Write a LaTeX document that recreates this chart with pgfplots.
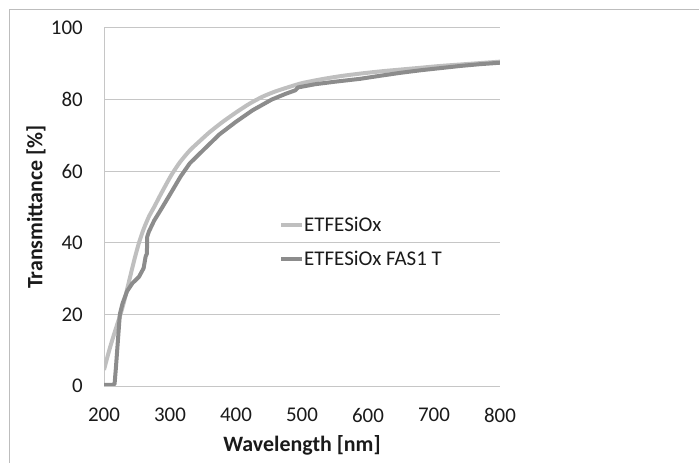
\documentclass[border=0pt]{standalone}
\usepackage{fontspec}
\setmainfont{Carlito}
\usepackage{pgfplots}
\pgfplotsset{compat=1.18}
\definecolor{lightS}{HTML}{BFBFBF}
\definecolor{darkS}{HTML}{8C8C8C}
\definecolor{gridG}{HTML}{C6C6C6}
\definecolor{frameG}{HTML}{BDBDBD}
\definecolor{txt}{HTML}{1A1A1A}
\begin{document}
\begin{tikzpicture}
\path[use as bounding box] (0bp,0bp) rectangle (699bp,463bp);
\draw[frameG, line width=1bp] (9bp,0bp) -- (9bp,453bp) -- (699bp,453bp);
\begin{axis}[
  at={(104bp,77bp)}, anchor=south west,
  scale only axis, width=396bp, height=358bp,
  xmin=200, xmax=800, ymin=0, ymax=100,
  xtick={200,300,...,800}, ytick={0,20,...,100},
  ymajorgrids, grid style={gridG, line width=1bp},
  axis x line*=bottom, axis y line*=left,
  axis line style={-, gridG, line width=1bp},
  major tick length=0pt, tick style={draw=none},
  /pgf/number format/assume math mode=true,
  /pgf/number format/1000 sep={},
  xticklabel style={font=\fontsize{21}{25}\selectfont, text=txt, anchor=north, inner sep=0pt, yshift=-22bp},
  yticklabel style={font=\fontsize{21}{25}\selectfont, text=txt, anchor=east, inner sep=0pt, xshift=-21bp},
  xlabel={Wavelength [nm]},
  ylabel={Transmittance [\%]},
  xlabel style={font=\bfseries\fontsize{22}{26}\selectfont, text=txt, at={(rel axis cs:0.5,0)}, anchor=center, yshift=-59bp},
  ylabel style={font=\bfseries\fontsize{22}{26}\selectfont, text=txt, at={(rel axis cs:0,0.5)}, anchor=center, yshift=68bp},
  legend style={at={(rel axis cs:0.442,0.473)}, anchor=north west, draw=none, fill=none,
    font=\fontsize{21}{25}\selectfont, text=txt, inner sep=0pt, row sep=18bp,
    nodes={inner sep=0pt}},
  legend cell align=left,
  legend image code/.code={\draw[#1] (0bp,0bp) -- (21bp,0bp);},
]
\addplot[lightS, line width=4bp, line join=round, smooth, tension=0.4] coordinates {
(200,4.5)(205,8.0)(210,11.3)(215,14.3)(220,17.2)(225,20.0)(230,23.3)(235,27.0)
(240,30.8)(246,35.3)(253,40.0)(260,43.8)(268,47.3)(276,50.0)(285,53.2)(295,56.6)
(303,59.2)(315,62.5)(330,65.8)(345,68.4)(360,70.9)(380,73.8)(400,76.4)(420,78.8)
(440,80.8)(460,82.3)(480,83.5)(500,84.6)(530,85.7)(560,86.6)(590,87.3)(620,87.9)
(650,88.4)(680,88.9)(710,89.4)(740,89.8)(770,90.2)(800,90.6)};
\addlegendentry{ETFESiOx}
\addplot[darkS, line width=4bp, line join=round] coordinates {
(200,0.3)(212,0.3)(216,0.5)(218,5)(220,10)(222,15)(224,20)(228,23)(235,26.5)
(243,28.7)(253,30.5)(260,32.9)(262,35)(263,36.1)(265,37)(265.5,41.7)(268,43.1)
(276,46.2)(286,49.2)(300,53.5)(316,58.5)(330,62.2)(351,66)(375,70.3)(400,73.8)
(425,77)(454,80)(475,81.6)(490,82.6)(494,83.4)(520,84.3)(550,85.0)(588,85.8)
(620,86.7)(650,87.5)(680,88.2)(710,88.8)(740,89.4)(770,89.9)(800,90.3)};
\addlegendentry{ETFESiOx FAS1 T}
\end{axis}
\end{tikzpicture}
\end{document}
